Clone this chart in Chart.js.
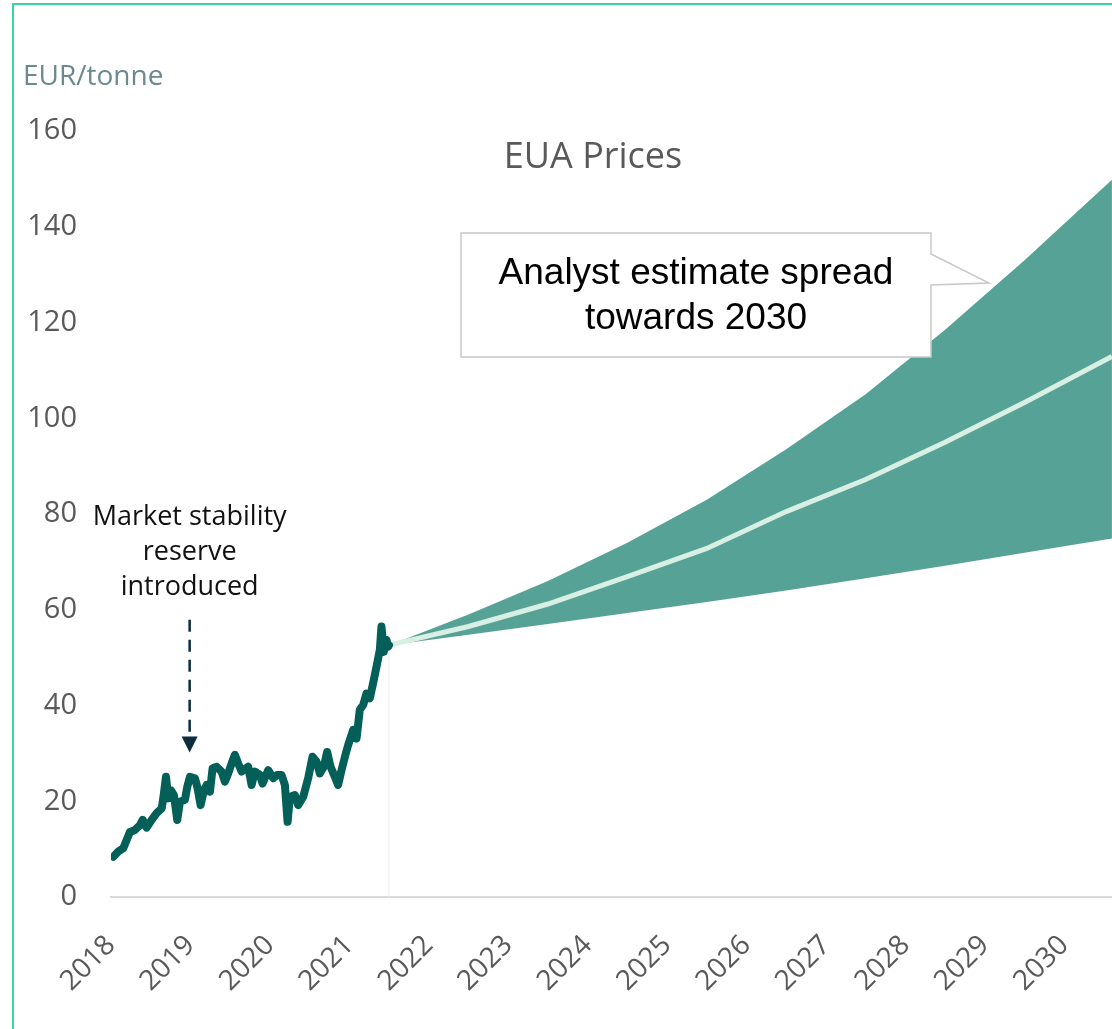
<!DOCTYPE html>
<html>
<head>
<meta charset="utf-8">
<script src="https://cdn.jsdelivr.net/npm/chart.js@4.4.1/dist/chart.umd.min.js"></script>
<style>
  html, body { margin: 0; padding: 0; background: #fff; overflow: hidden; }
  #wrap { position: relative; width: 1112px; height: 1029px; }
  #frame { position: absolute; left: 12px; top: 3px; width: 1200px; height: 1100px;
           border: 2px solid #35d79b; box-sizing: border-box; pointer-events: none; }
  canvas { position: absolute; left: 0; top: 0; }
</style>
</head>
<body>
<div id="wrap">
  <div id="frame"></div>
  <canvas id="chart" width="1112" height="1029"></canvas>
</div>
<script>
// ===== DATA =====
// historical EUA price, EUR/tonne
const histYears  = [2018.029, 2018.092, 2018.155, 2018.197, 2018.239, 2018.302, 2018.365, 2018.399, 2018.449, 2018.512,
                    2018.575, 2018.638, 2018.658, 2018.692, 2018.721, 2018.755, 2018.792, 2018.834, 2018.868, 2018.931,
                    2018.960, 2018.994, 2019.057, 2019.086, 2019.128, 2019.170, 2019.204, 2019.245, 2019.279, 2019.330,
                    2019.392, 2019.434, 2019.475, 2019.518, 2019.560, 2019.601, 2019.644, 2019.727, 2019.770, 2019.811,
                    2019.874, 2019.908, 2019.979, 2020.042, 2020.092, 2020.147, 2020.189, 2020.223, 2020.252, 2020.314,
                    2020.356, 2020.419, 2020.482, 2020.537, 2020.587, 2020.629, 2020.679, 2020.721, 2020.764, 2020.818,
                    2020.859, 2020.902, 2020.956, 2020.985, 2021.048, 2021.091, 2021.132, 2021.174, 2021.216, 2021.258,
                    2021.299, 2021.342, 2021.384, 2021.405, 2021.434, 2021.468, 2021.490, 2021.500];
const histPrices = [8.4, 9.5, 10.2, 11.9, 13.6, 14.0, 15.0, 16.1, 14.5, 16.1,
                    17.5, 18.5, 20.6, 25.1, 20.6, 22.3, 21.3, 16.1, 19.9, 20.3,
                    23.0, 25.1, 24.8, 23.0, 19.2, 22.3, 23.4, 22.0, 26.9, 27.2,
                    26.2, 24.1, 25.8, 27.9, 29.7, 27.9, 26.2, 27.2, 23.4, 26.2,
                    25.5, 23.7, 26.5, 24.8, 25.5, 25.5, 23.4, 15.7, 20.9, 21.3,
                    19.2, 20.9, 24.8, 29.3, 28.3, 25.8, 27.2, 30.3, 27.2, 25.1,
                    23.4, 26.5, 30.0, 31.7, 34.9, 33.1, 39.1, 40.1, 42.5, 41.5,
                    44.6, 48.1, 51.6, 56.5, 51.2, 53.7, 52.3, 52.6];

// analyst estimate spread towards 2030
const fcYears  = [2021.5, 2022.5, 2023.5, 2024.5, 2025.5, 2026.5, 2027.5, 2028.5, 2029.5, 2030.6];
const fcUpper  = [52.6, 59.0, 66.0, 74.0, 83.0, 93.5, 105.0, 118.5, 133.0, 149.8];
const fcMid    = [52.6, 56.5, 61.2, 66.9, 72.8, 80.5, 87.2, 95.0, 103.3, 112.9];
const fcLower  = [52.6, 54.8, 57.0, 59.3, 61.6, 64.0, 66.6, 69.2, 71.9, 74.9];

const yearFirst = 2018, yearLast = 2030;
const msrYear = 2018.99;            // market stability reserve start
const msrArrow = [57.9, 30.2];      // arrow from / to (EUR/tonne)

const pts = (xs, ys) => xs.map((x, i) => ({ x, y: ys[i] }));

// ===== ANNOTATIONS =====
const annotations = {
  id: 'annotations',
  afterDraw(chart) {
    const { ctx, scales: { x, y } } = chart;
    ctx.save();

    // titles
    ctx.fillStyle = '#595959';
    ctx.font = '36px "Open Sans"';
    ctx.textAlign = 'center';
    ctx.textBaseline = 'middle';
    ctx.fillText('EUA Prices', 593, 158);

    ctx.fillStyle = '#6b8a8f';
    ctx.font = '28px "Open Sans"';
    ctx.textAlign = 'left';
    ctx.fillText('EUR/tonne', 23, 77);

    // MSR note + dashed arrow
    const ax = x.getPixelForValue(msrYear);
    const y0 = y.getPixelForValue(msrArrow[0]);
    const y1 = y.getPixelForValue(msrArrow[1]);
    ctx.fillStyle = '#111';
    ctx.font = '27px "Open Sans"';
    ctx.textAlign = 'center';
    ['Market stability', 'reserve', 'introduced'].forEach((t, i) => ctx.fillText(t, ax, 517 + i * 35));

    ctx.strokeStyle = '#0b2d3c';
    ctx.lineWidth = 2.5;
    ctx.setLineDash([12, 8]);
    ctx.beginPath();
    ctx.moveTo(ax, y0);
    ctx.lineTo(ax, y1 - 14);
    ctx.stroke();
    ctx.setLineDash([]);
    ctx.fillStyle = '#0b2d3c';
    ctx.beginPath();
    ctx.moveTo(ax - 8, y1 - 16);
    ctx.lineTo(ax + 8, y1 - 16);
    ctx.lineTo(ax, y1);
    ctx.closePath();
    ctx.fill();

    // callout box
    ctx.fillStyle = '#fff';
    ctx.strokeStyle = '#c8c8c8';
    ctx.lineWidth = 1.5;
    ctx.beginPath();
    ctx.moveTo(461, 233);
    ctx.lineTo(931, 233);
    ctx.lineTo(931, 254);
    ctx.lineTo(989, 283);
    ctx.lineTo(931, 285);
    ctx.lineTo(931, 357);
    ctx.lineTo(461, 357);
    ctx.closePath();
    ctx.fill();
    ctx.stroke();

    ctx.fillStyle = '#000';
    ctx.font = '37px "Liberation Sans", Arial';
    ctx.textAlign = 'center';
    ctx.fillText('Analyst estimate spread', 696, 274);
    ctx.fillText('towards 2030', 696, 319);

    ctx.restore();
  }
};

// ===== CHART =====
new Chart(document.getElementById('chart'), {
  type: 'line',
  data: {
    datasets: [
      {
        data: pts(histYears, histPrices),
        borderColor: '#035f58',
        borderWidth: 8,
        borderJoinStyle: 'round',
        borderCapStyle: 'round',
        pointRadius: 0,
        tension: 0,
        order: 0
      },
      {
        data: pts(fcYears, fcMid),
        borderColor: '#d8efe4',
        borderWidth: 5,
        pointRadius: 0,
        tension: 0,
        order: 1
      },
      {
        data: pts(fcYears, fcUpper),
        borderWidth: 0,
        borderColor: 'rgba(0,0,0,0)',
        backgroundColor: '#57a297',
        fill: 3,
        pointRadius: 0,
        tension: 0,
        order: 2
      },
      {
        data: pts(fcYears, fcLower),
        borderWidth: 0,
        borderColor: 'rgba(0,0,0,0)',
        pointRadius: 0,
        tension: 0,
        fill: false,
        order: 3
      },
      {
        data: [{ x: fcYears[0], y: 0 }, { x: fcYears[0], y: fcMid[0] }],
        borderColor: '#ededed',
        borderWidth: 1,
        pointRadius: 0,
        order: 4
      }
    ]
  },
  options: {
    responsive: false,
    animation: false,
    events: [],
    layout: { padding: { top: 131, left: 0, right: 0, bottom: 0 } },
    plugins: { legend: { display: false }, tooltip: { enabled: false } },
    scales: {
      x: {
        type: 'linear',
        min: yearFirst,
        max: 2030.6,
        grid: { display: false },
        border: { display: true, color: '#d9d9d9', width: 2 },
        afterFit: s => { s.height = 132; },
        ticks: {
          stepSize: 1,
          includeBounds: false,
          autoSkip: false,
          minRotation: 45,
          maxRotation: 45,
          padding: 24,
          color: '#595959',
          font: { family: 'Open Sans', size: 28 },
          callback: v => (Number.isInteger(v) && v <= yearLast) ? String(v) : ''
        }
      },
      y: {
        min: 0,
        max: 160,
        grid: { display: false, drawTicks: false },
        border: { display: false },
        afterFit: s => { s.width = 111; },
        ticks: {
          stepSize: 20,
          padding: 34,
          color: '#595959',
          font: { family: 'Open Sans', size: 29 }
        }
      }
    }
  },
  plugins: [annotations]
});
</script>
</body>
</html>
